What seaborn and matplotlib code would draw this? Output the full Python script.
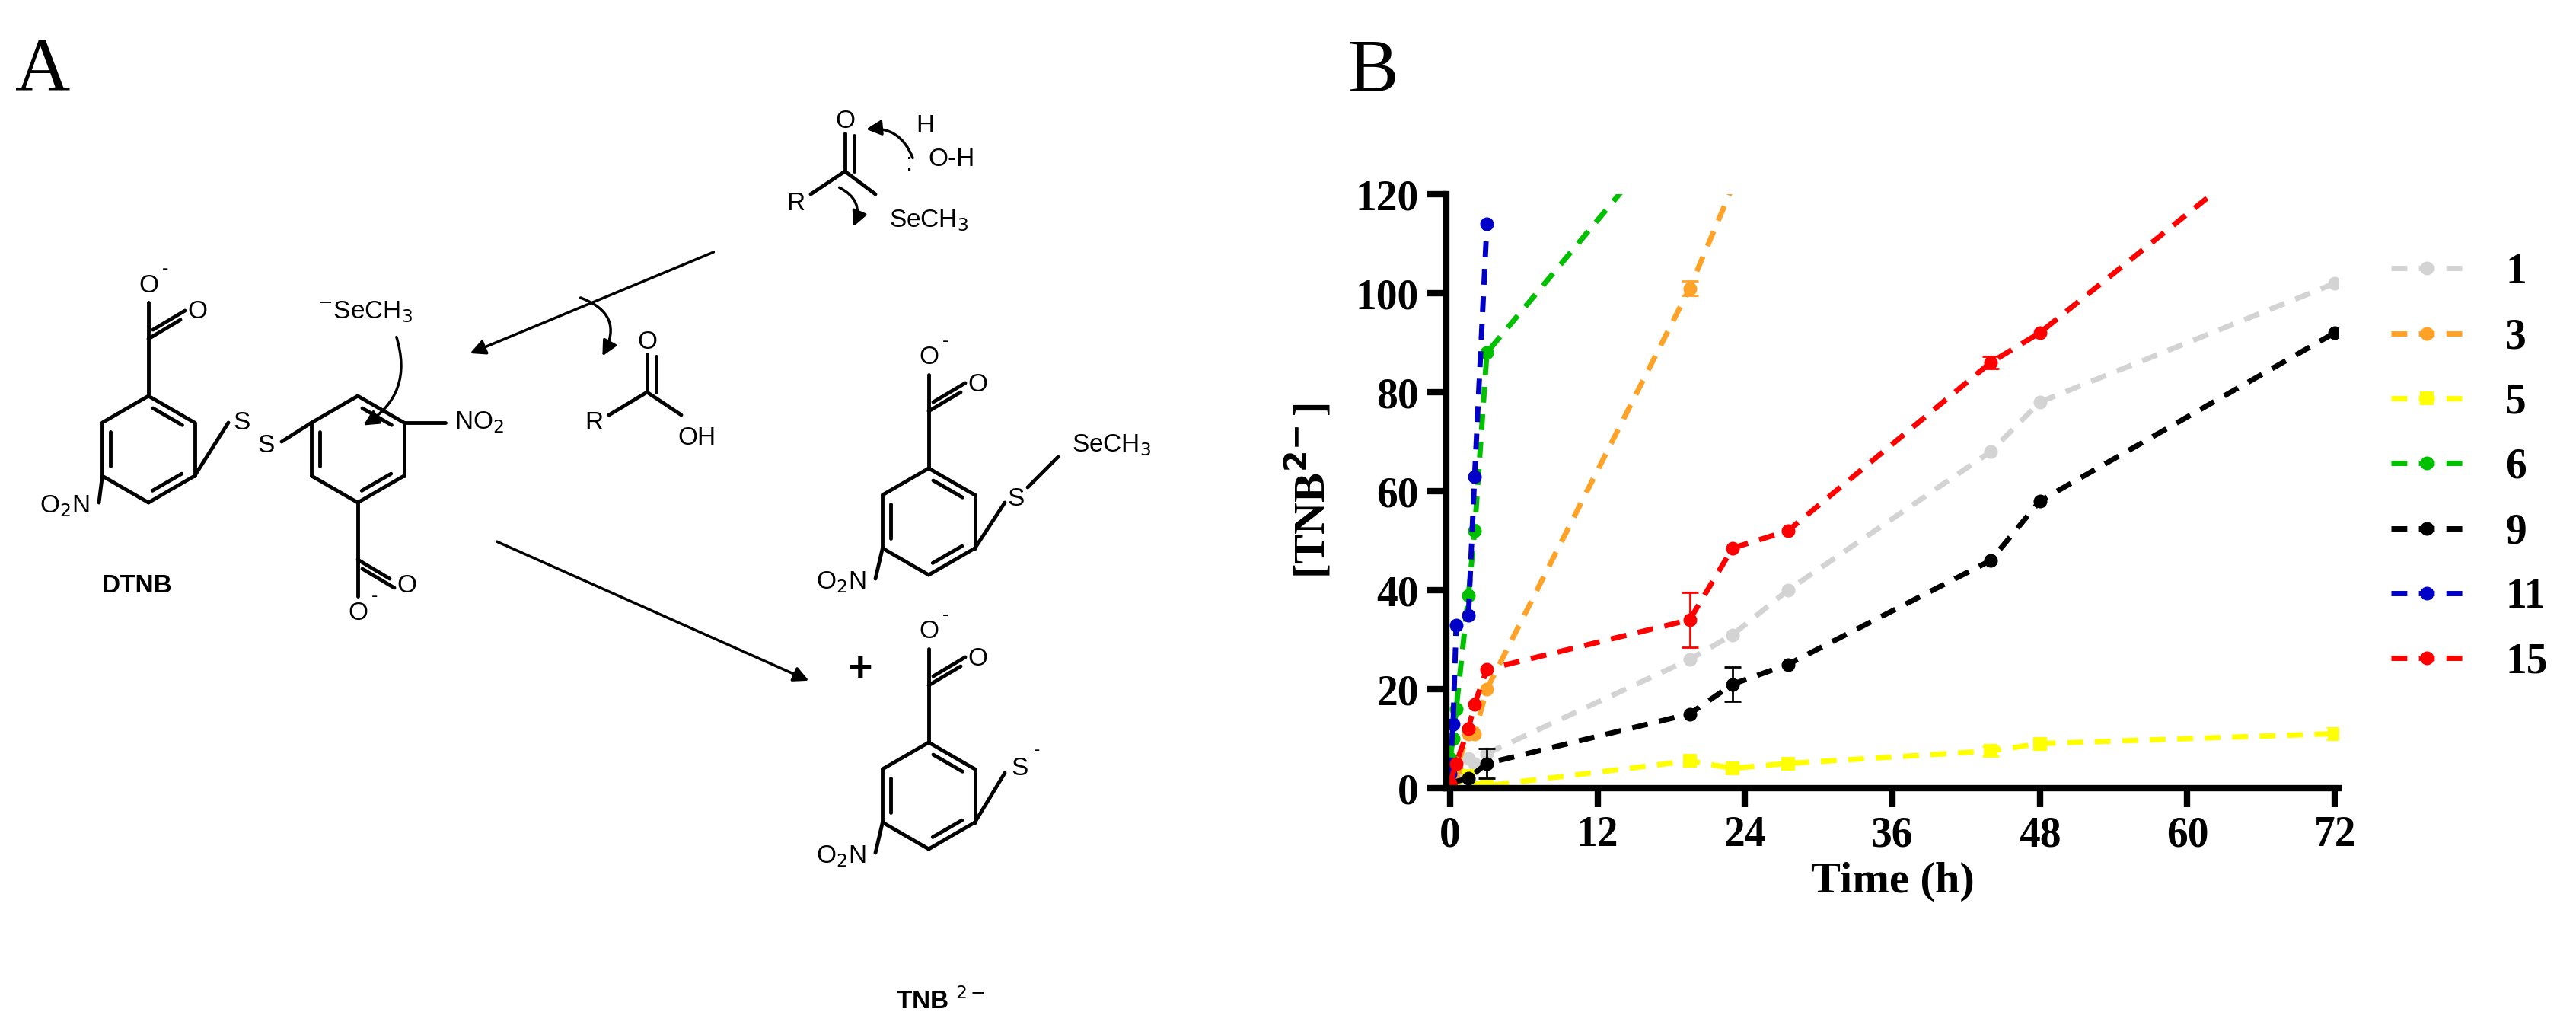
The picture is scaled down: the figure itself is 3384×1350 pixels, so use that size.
import numpy as np
import pandas as pd
import matplotlib
matplotlib.use("Agg")
import matplotlib.pyplot as plt
import seaborn as sns

# ---------------- data ----------------
series_names = ["1", "3", "5", "6", "9", "11", "15"]
series_colors = ["#d3d3d3", "#ffa228", "#ffff00", "#00c000", "#000000", "#0000c8", "#ff0000"]

t_1 = [0, 0.5, 1.5, 2, 3, 19.5, 23, 27.5, 44, 48, 72]
y_1 = [1, 2, 6, 5, 7, 26, 31, 40, 68, 78, 102]
t_3 = [0, 0.25, 0.5, 1.5, 2, 3, 19.5, 27.5]
y_3 = [0, 2, 4, 11, 11, 20, 101, 148]
t_5 = [0, 1.5, 2, 3, 19.5, 23, 27.5, 44, 48, 72]
y_5 = [0, 2.5, 0, 0.5, 5.5, 4, 5, 7.5, 9, 11]
t_6 = [0, 0.25, 0.5, 1.5, 2, 3, 19.5]
y_6 = [6, 10, 16, 39, 52, 88, 137]
t_9 = [0, 1.5, 3, 19.5, 23, 27.5, 44, 48, 72]
y_9 = [1, 2, 5, 15, 21, 25, 46, 58, 92]
t_11 = [0, 0.25, 0.5, 1.5, 2, 3]
y_11 = [3, 13, 33, 35, 63, 114]
t_15 = [0, 0.5, 1.5, 2, 3, 19.5, 23, 27.5, 44, 48, 72]
y_15 = [1, 5, 12, 17, 24, 34, 48.5, 52, 86, 92, 140]

err_series = ["15", "9", "9", "15", "3", "5", "5"]
err_t = [19.5, 23, 3, 44, 19.5, 72, 44]
err_y = [34, 21, 5, 86, 101, 11, 7.5]
err_v = [5.5, 3.5, 3, 1.2, 1.5, 1.2, 1.0]

x_ticks = [0, 12, 24, 36, 48, 60, 72]
y_ticks = [0, 20, 40, 60, 80, 100, 120]

ts = [t_1, t_3, t_5, t_6, t_9, t_11, t_15]
ys = [y_1, y_3, y_5, y_6, y_9, y_11, y_15]
df = pd.concat([pd.DataFrame({"t": t, "y": y, "s": n}) for t, y, n in zip(ts, ys, series_names)])

# ---------------- figure ----------------
fig = plt.figure(figsize=(33.84, 13.5), dpi=100)
serif = "Liberation Serif"
sans = "Liberation Sans"

ax = fig.add_axes([1900/3384, 1 - 1035/1350, (3072-1900)/3384, (1035-255)/1350])
pal = dict(zip(series_names, series_colors))
for n, c in zip(series_names, series_colors):
    sub = df[df.s == n]
    sns.lineplot(data=sub, x="t", y="y", ax=ax, color=c, linestyle=(0, (3, 2.2)), lw=5,
                 marker="s" if n == "5" else "o", markersize=13, markeredgewidth=0,
                 label=n, sort=False, clip_on=True)
for s, t, y, e in zip(err_series, err_t, err_y, err_v):
    ax.errorbar([t], [y], yerr=[e], color=pal[s], capsize=8, lw=2, capthick=2, fmt="none")

ax.set_xlim(-0.3, 72.3)
ax.set_ylim(0, 120)
ax.set_xticks(x_ticks)
ax.set_yticks(y_ticks)
for sp in ["top", "right"]:
    ax.spines[sp].set_visible(False)
for sp in ["left", "bottom"]:
    ax.spines[sp].set_linewidth(6)
ax.spines["left"].set_bounds(0, 120)
ax.tick_params(width=6, length=18, labelsize=40, pad=8)
for lab in ax.get_xticklabels() + ax.get_yticklabels():
    lab.set_fontfamily(serif)
    lab.set_fontweight("bold")
ax.set_xlabel("Time (h)", fontsize=42, fontfamily=serif, fontweight="bold", labelpad=6)
ax.set_ylabel(r"[TNB$^{\mathbf{2\!-}}$]", fontsize=42, fontfamily=serif, fontweight="bold", labelpad=20)
leg = ax.legend(loc="upper left", bbox_to_anchor=(1.04, 0.93), frameon=False,
                prop={"family": serif, "weight": "bold", "size": 40},
                handlelength=1.7, labelspacing=0.6, handletextpad=1.0, borderaxespad=0)

fig.text(1770/3384, 1 - 95/1350, "B", fontsize=72, fontfamily=serif, va="center")
fig.text(20/3384, 1 - 95/1350, "A", fontsize=72, fontfamily=serif, va="center")

# ---------------- panel A (scheme) ----------------
axA = fig.add_axes([0, 0, 1700/3384, 1])
axA.set_xlim(0, 1700)
axA.set_ylim(1350, 0)
axA.axis("off")
LW = 3.5
fs = 24

def line(p, q, **kw):
    axA.plot([p[0], q[0]], [p[1], q[1]], color="black", lw=LW, solid_capstyle="round", **kw)

def ring(cx, cy, r=70, dbl=(0, 2, 4)):
    ang = np.deg2rad(np.arange(6) * 60 + 30)
    pts = [(cx + r*np.cos(a), cy + r*np.sin(a)) for a in ang]
    for i in range(6):
        line(pts[i], pts[(i+1) % 6])
        if i in dbl:
            p, q = np.array(pts[i]), np.array(pts[(i+1) % 6])
            c = np.array([cx, cy])
            p2 = p + (c - p) * 0.18; q2 = q + (c - q) * 0.18
            p2 = p2 + (q2 - p2) * 0.12; q2 = q2 - (q2 - p2) * 0.12
            line(p2, q2)
    return pts

def txt(x, y, s, size=fs, **kw):
    axA.text(x, y, s, fontsize=size, fontfamily=sans, ha="center", va="center", **kw)

def carboxylate(vx, vy, up=True):
    d = -1 if up else 1
    c = (vx + 0, vy + d*75)
    line((vx, vy), c)
    o1 = (c[0] + 60, c[1] + d*35)
    line(c, (o1[0]-18, o1[1]-d*10))
    line((c[0]+6, c[1]+d*12), (o1[0]-12, o1[1]+d*2))
    txt(o1[0]+4, o1[1], "O")
    o2 = (c[0], c[1] + d*70)
    line(c, (o2[0], o2[1]-d*22))
    txt(o2[0], o2[1], "O")
    txt(o2[0]+22, o2[1]-22, "-", size=18)

def arrow(p, q, rad=0.0):
    axA.annotate("", xy=q, xytext=p, arrowprops=dict(arrowstyle="-|>", lw=2.5, color="black",
                 mutation_scale=30, connectionstyle=f"arc3,rad={rad}"))

# reagent thioester
line((1065, 255), (1110, 225)); line((1110, 225), (1150, 255))
line((1110, 225), (1110, 175)); line((1122, 225), (1122, 178))
txt(1110, 160, "O"); txt(1045, 268, "R"); txt(1220, 290, "SeCH$_3$")
txt(1215, 165, "H"); txt(1250, 210, "O-H"); txt(1195, 215, ":")
arrow((1200, 210), (1135, 170), rad=0.4)
arrow((1100, 245), (1120, 300), rad=-0.5)

# attack arrow
arrow((940, 330), (615, 465))
arrow((760, 390), (790, 470), rad=-0.6)
# acid
line((800, 545), (850, 515)); line((850, 515), (895, 545)); line((850, 515), (850, 465)); line((862, 515), (862, 468))
txt(850, 450, "O"); txt(780, 555, "R"); txt(915, 575, "OH")

txt(480, 410, "$^{-}$SeCH$_3$")
arrow((520, 440), (475, 560), rad=-0.4)

# DTNB
pl = ring(195, 590)
carboxylate(*pl[4], up=True)
txt(85, 665, "O$_2$N"); line(pl[2], (130, 660))
line(pl[0], (300, 555)); txt(318, 555, "S"); txt(350, 585, "S")
pr = ring(470, 590)
line((370, 580), pr[3])
txt(630, 555, "NO$_2$"); line(pr[5], (585, 555))
carboxylate(*pr[1], up=False)
txt(180, 770, "DTNB", fontweight="bold")

# product arrow
arrow((650, 710), (1065, 895))

# TNB-SeCH3
pm = ring(1220, 685)
carboxylate(*pm[4], up=True)
txt(1105, 765, "O$_2$N"); line(pm[2], (1150, 760))
line(pm[0], (1320, 660)); txt(1335, 655, "S"); line((1350, 640), (1390, 600)); txt(1460, 585, "SeCH$_3$")

txt(1130, 880, "+", size=40, fontweight="bold")

pt = ring(1220, 1045)
carboxylate(*pt[4], up=True)
txt(1105, 1125, "O$_2$N"); line(pt[2], (1150, 1120))
line(pt[0], (1320, 1015)); txt(1340, 1010, "S"); txt(1362, 985, "-", size=18)
txt(1235, 1315, "TNB $^{2-}$", fontweight="bold")

fig.savefig("out.png", dpi=100)
